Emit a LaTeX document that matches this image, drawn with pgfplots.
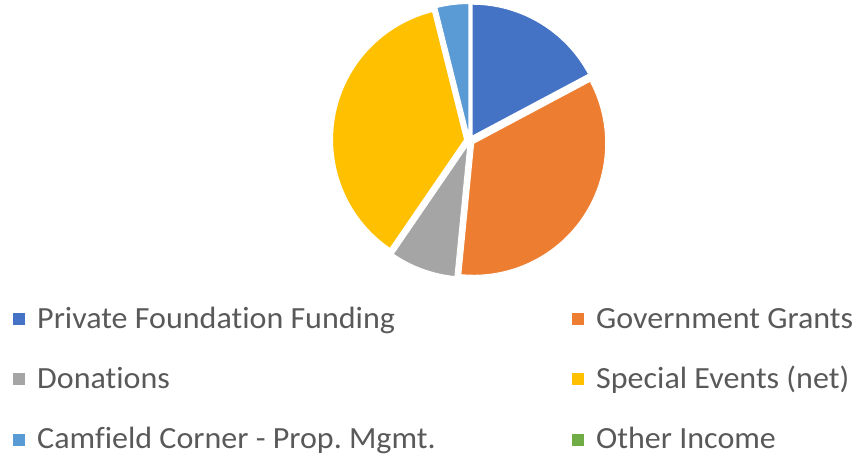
\documentclass[border=0pt]{standalone}
\usepackage{pgfplots}
\usepackage{pgfplotstable}
\pgfplotsset{compat=1.18}
\usepackage{fontspec}
\setmainfont{Carlito}[RawFeature={-liga;-clig;-dlig}, FakeStretch=1.04]
\frenchspacing
\definecolor{c1}{HTML}{4472C4}
\definecolor{c2}{HTML}{ED7D31}
\definecolor{c3}{HTML}{A5A5A5}
\definecolor{c4}{HTML}{FFC000}
\definecolor{c5}{HTML}{5B9BD5}
\definecolor{c6}{HTML}{70AD47}
\definecolor{txt}{HTML}{595959}
\pgfplotstableread{
category value color
PrivateFoundation 17.2 c1
GovernmentGrants 34.3 c2
Donations 8.0 c3
SpecialEvents 36.5 c4
Camfield 3.9 c5
OtherIncome 0 c6
}\piedata
\begin{document}
\begin{tikzpicture}
\begin{axis}[
  scale only axis, width=856pt, height=459pt,
  xmin=0, xmax=856, ymin=0, ymax=459,
  hide axis, clip=false]
\pgfmathsetmacro\kfac{360/99.9}
\gdef\cumul{0}
\pgfplotsforeachungrouped \i in {0,...,4} {
  \pgfplotstablegetelem{\i}{value}\of\piedata \let\pval\pgfplotsretval
  \pgfplotstablegetelem{\i}{color}\of\piedata \let\pcol\pgfplotsretval
  \pgfmathsetmacro\sa{90-\cumul*\kfac}
  \pgfmathsetmacro\ea{90-(\cumul+\pval)*\kfac}
  \pgfmathsetmacro\ma{(\sa+\ea)/2}
  \pgfmathsetmacro\cx{469.5+5*cos(\ma)}
  \pgfmathsetmacro\cy{318.5+5*sin(\ma)}
  \edef\temp{\noexpand\fill[\pcol, draw=white, line width=1pt] (axis cs:\cx,\cy) -- ++(\sa:132pt) arc[start angle=\sa, end angle=\ea, radius=132pt] -- cycle;}
  \temp
  \pgfmathsetmacro\newcumul{\cumul+\pval}
  \xdef\cumul{\newcumul}
}
% legend
\fill[c1] (axis cs:13,134) rectangle (axis cs:25,146);
\fill[c2] (axis cs:572,134) rectangle (axis cs:584,146);
\fill[c3] (axis cs:13,74) rectangle (axis cs:25,86);
\fill[c4] (axis cs:572,74) rectangle (axis cs:584,86);
\fill[c5] (axis cs:13,13.5) rectangle (axis cs:25,25.5);
\fill[c6] (axis cs:572,13.5) rectangle (axis cs:584,25.5);
\begin{scope}[every node/.style={anchor=base west, inner sep=0pt, text=txt, font=\fontsize{30.8}{36}\selectfont}]
\node at (axis cs:37,130.7) {Private Foundation Funding};
\node at (axis cs:596,130.7) {Government Grants};
\node at (axis cs:37,70.7) {Donations};
\node at (axis cs:596,70.7) {Special Events (net)};
\node at (axis cs:37,10.2) {Camfield Corner - Prop. Mgmt.};
\node at (axis cs:596,10.2) {Other Income};
\end{scope}
\end{axis}
\pgfresetboundingbox
\path (current axis.south west) rectangle (current axis.north east);
\end{tikzpicture}
\end{document}
